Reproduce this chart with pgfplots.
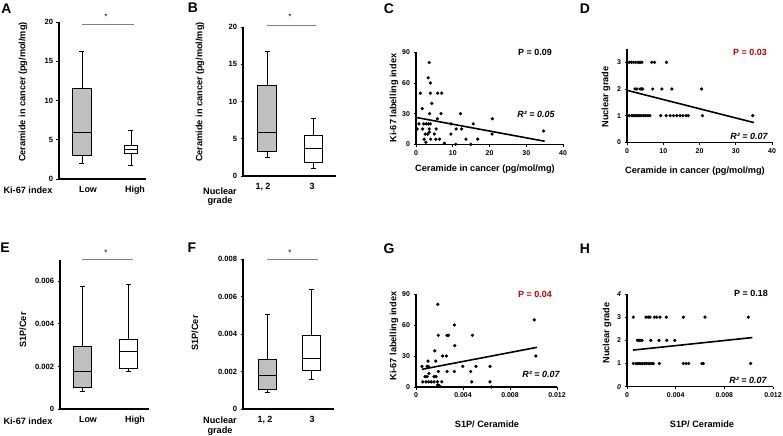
\documentclass[border=0pt]{standalone}
\usepackage{fontspec}
\setmainfont{Liberation Sans}
\usepackage{pgfplots}
\pgfplotsset{compat=1.18}
\definecolor{boxgray}{RGB}{191,191,191}
\definecolor{pred}{RGB}{192,0,0}
\pgfplotsset{
  base/.style={scale only axis, clip=false, anchor=south west,
    axis x line=bottom, axis y line=left,
    axis line style={-, line width=1.4bp, black},
    tick align=outside, major tick length=2.5bp,
    tick style={black, line width=0.8bp},
    tick label style={font=\fontsize{7}{8}\selectfont\bfseries},
    scaled ticks=false},
  boxax/.style={base, xtick style={draw=none},
    yticklabel style={font=\fontsize{7.6}{8.5}\selectfont\bfseries},
    xticklabel style={font=\fontsize{9}{10}\selectfont\bfseries, yshift=-1bp},
    ymin=0, xmin=0},
  bx/.style={draw=black, line width=0.8bp, no marks},
  sc/.style={only marks, mark=*, mark size=1.45bp, black},
  reg/.style={black, line width=1.6bp, no marks},
}
% box: #1 left, #2 centre, #3 right, #4 lower whisker, #5 Q1, #6 median, #7 Q3, #8 upper whisker, #9 fill
\newcommand{\bxp}[9]{%
  \pgfmathsetmacro\capl{#2-2.5}\pgfmathsetmacro\capr{#2+2.5}%
  \addplot[bx] coordinates {(#2,#7) (#2,#8)};
  \addplot[bx] coordinates {(\capl,#8) (\capr,#8)};
  \addplot[bx] coordinates {(#2,#5) (#2,#4)};
  \addplot[bx] coordinates {(\capl,#4) (\capr,#4)};
  \addplot[bx, fill=#9] coordinates {(#1,#5) (#3,#5) (#3,#7) (#1,#7) (#1,#5)};
  \addplot[bx] coordinates {(#1,#6) (#3,#6)};
}
\newcommand{\lab}{\fontsize{9.2}{10.5}\selectfont\bfseries}
\newcommand{\stat}{\fontsize{9}{10.5}\selectfont\bfseries}
\begin{document}
\begin{tikzpicture}
\useasboundingbox (0,0) rectangle (783bp,-436bp);

% ---------------- A ----------------
\begin{axis}[boxax, at={(59bp,-179bp)}, width=87bp, height=157bp,
  xmax=87, ymax=20, ytick={0,5,10,15,20}, yticklabels={0,5,10,15,20},
  xtick={29,76}, xticklabels={Low,High}]
\bxp{13.5}{23}{32.5}{2.0}{3.0}{5.9}{11.5}{16.3}{boxgray}
\bxp{65.5}{72}{78.5}{1.7}{3.27}{3.78}{4.29}{6.16}{white}
\end{axis}

% ---------------- B ----------------
\begin{axis}[boxax, at={(243bp,-176bp)}, width=93bp, height=149bp,
  xmax=93, ymax=20, ytick={0,5,10,15,20}, yticklabels={0,5,10,15,20},
  xtick={20,69}, xticklabels={{1, 2},3}]
\bxp{14.5}{24}{33.5}{2.45}{3.25}{5.88}{12.16}{16.66}{boxgray}
\bxp{61}{70}{79}{1.07}{1.83}{3.65}{5.43}{7.75}{white}
\end{axis}

% ---------------- E (values in units of 0.001) ----------------
\begin{axis}[boxax, at={(60bp,-409bp)}, width=89bp, height=149bp,
  xmax=89, ymax=7, ytick={0,2,4,6}, yticklabels={0,0.002,0.004,0.006},
  xtick={28,75}, xticklabels={Low,High}]
\bxp{13}{22}{31}{0.85}{1.03}{1.79}{2.93}{5.78}{boxgray}
\bxp{59}{68}{77}{1.79}{1.9}{2.71}{3.29}{5.87}{white}
\end{axis}

% ---------------- F (values in units of 0.001) ----------------
\begin{axis}[boxax, at={(243bp,-409bp)}, width=91bp, height=150bp,
  xmax=91, ymax=8, ytick={0,2,4,6,8}, yticklabels={0,0.002,0.004,0.006,0.008},
  xtick={22,69}, xticklabels={{1, 2},3}]
\bxp{15}{24}{33}{0.89}{1.05}{1.8}{2.63}{5.03}{boxgray}
\bxp{59}{68}{77}{1.6}{2.06}{2.72}{3.95}{6.4}{white}
\end{axis}

% ---------------- C ----------------
\begin{axis}[base, at={(416bp,-144.3bp)}, width=147bp, height=92bp,
  xmin=0, xmax=40, ymin=0, ymax=90,
  xtick={0,10,20,30,40}, xticklabels={0,10,20,30,40},
  ytick={0,30,60,90}, yticklabels={0,30,60,90}]
\addplot[sc] coordinates {(3.6,80) (3.3,65) (3.9,60) (1.2,50) (3.9,50) (5.9,50) (7.0,50) (4.3,40) (1.7,35)
 (3.7,30) (6.8,30) (12.1,30) (5.8,25) (20.8,25) (0.8,20) (2.1,20) (2.8,20) (3.4,20) (3.9,20) (9.5,20) (15.6,20)
 (0.3,15) (1.8,15) (3.6,15) (5.5,15) (10.9,15) (12.4,15) (2.5,10) (3.2,10) (5.0,10) (9.5,10) (20.7,10) (34.7,13)
 (3.6,12) (2.2,5) (4.0,5) (5.4,5) (6.4,5) (13.6,5) (16.8,5) (2.7,2) (7.7,1) (10.8,0) (14.9,0)};
\addplot[reg] coordinates {(0,26.3) (35,3)};
\end{axis}

% ---------------- D ----------------
\begin{axis}[base, at={(627bp,-142.3bp)}, width=145bp, height=93.3bp,
  xmin=0, xmax=40, ymin=0, ymax=3.5,
  xtick={0,10,20,30,40}, xticklabels={0,10,20,30,40},
  ytick={0,1,2,3}, yticklabels={0,1,2,3}]
\addplot[sc] coordinates {(0.6,3) (1.2,3) (1.8,3) (2.4,3) (3.1,3) (3.6,3) (4.1,3) (6.8,3) (7.6,3) (10.9,3)
 (2.2,2) (2.7,2) (3.6,2) (4.0,2) (4.3,2) (7.1,2) (9.6,2) (12.4,2) (20.6,2)
 (0.1,1) (0.6,1) (1.3,1) (1.7,1) (2.2,1) (2.7,1) (3.1,1) (3.6,1) (4.1,1) (4.7,1) (5.2,1) (5.8,1) (6.3,1)
 (9.3,1) (10.8,1) (11.9,1) (12.8,1) (13.7,1) (14.6,1) (15.4,1) (16.3,1) (16.9,1) (20.8,1) (34.7,1)};
\addplot[reg] coordinates {(0,1.95) (35,0.74)};
\end{axis}

% ---------------- G (x in units of 0.001) ----------------
\begin{axis}[base, at={(416bp,-387bp)}, width=141bp, height=93bp,
  xmin=0, xmax=12, ymin=0, ymax=90,
  xtick={0,4,8,12}, xticklabels={0,0.004,0.008,0.012},
  ytick={0,30,60,90}, yticklabels={0,30,60,90}]
\addplot[sc] coordinates {(1.85,80) (10.06,65) (3.27,60) (1.9,50) (2.64,50) (2.76,50) (4.8,50)
 (3.3,40) (1.6,35) (2.27,30) (2.59,30) (10.2,30) (1.02,25) (1.68,25)
 (0.51,20) (0.94,20) (1.05,20) (3.98,20) (5.1,20) (6.3,20)
 (1.9,15) (2.64,15) (3.27,15) (4.66,15) (1.1,13)
 (0.77,10) (0.94,10) (1.53,10) (1.7,10)
 (0.57,5) (0.85,5) (1.08,5) (1.3,5) (1.53,5) (1.82,5) (2.2,5) (4.74,5) (6.3,5)
 (1.85,2) (2.0,1) (6.42,0)};
\addplot[reg] coordinates {(0.5,17.1) (10.3,38.4)};
\end{axis}

% ---------------- H (x in units of 0.001) ----------------
\begin{axis}[base, at={(627bp,-386.7bp)}, width=146bp, height=92.7bp,
  xmin=0, xmax=12, ymin=0, ymax=4,
  xtick={0,4,8,12}, xticklabels={0,0.004,0.008,0.012},
  ytick={0,1,2,3,4}, yticklabels={\textit{0},1,2,3,\textit{4}}]
\addplot[sc] coordinates {(0.52,3) (1.56,3) (1.75,3) (1.89,3) (2.25,3) (2.44,3) (2.71,3)
 (3.23,3) (4.63,3) (6.41,3) (9.97,3)
 (0.85,2) (0.96,2) (1.07,2) (1.23,2) (1.95,2) (2.63,2) (3.26,2) (3.92,2)
 (0.52,1) (0.74,1) (0.88,1) (1.01,1) (1.15,1) (1.29,1) (1.45,1) (1.59,1) (1.75,1)
 (1.89,1) (2.05,1) (2.16,1) (2.66,1) (4.63,1) (4.85,1) (5.07,1) (6.16,1) (6.27,1) (10.16,1)};
\addplot[reg] coordinates {(0.5,1.58) (10.3,2.12)};
\end{axis}

% ---------------- panel letters ----------------
\foreach \t/\x/\y in {A/6.5/9, B/193/8, C/389/9, D/585/9, E/5/248, F/192/248, G/389/249, H/585/249}
  \node[font=\fontsize{14}{14}\selectfont\bfseries] at (\x bp,-\y bp) {\t};

% ---------------- axis titles ----------------
\node[font=\lab, rotate=90] at (23bp,-92bp) {Ceramide in cancer (pg/mol/mg)};
\node[font=\lab, rotate=90] at (200bp,-92bp) {Ceramide in cancer (pg/mol/mg)};
\node[font=\lab, rotate=90] at (23bp,-330bp) {S1P/Cer};
\node[font=\lab, rotate=90] at (195bp,-333bp) {S1P/Cer};
\node[font=\lab, rotate=90] at (394bp,-98bp) {Ki-67 labelling index};
\node[font=\lab, rotate=90] at (606bp,-97bp) {Nuclear grade};
\node[font=\lab, rotate=90] at (394bp,-336bp) {Ki-67 labelling index};
\node[font=\lab, rotate=90] at (607bp,-333bp) {Nuclear grade};
\node[font=\lab] at (485bp,-169bp) {Ceramide in cancer (pg/mol/mg)};
\node[font=\lab] at (695bp,-171bp) {Ceramide in cancer (pg/mol/mg)};
\node[font=\lab] at (487bp,-424bp) {S1P/ Ceramide};
\node[font=\lab] at (702bp,-424bp) {S1P/ Ceramide};

% category titles
\node[font=\fontsize{9.2}{10}\selectfont\bfseries] at (28bp,-190bp) {Ki-67 index};
\node[font=\fontsize{9.2}{10}\selectfont\bfseries] at (28bp,-421bp) {Ki-67 index};
\node[font=\fontsize{9.2}{10}\selectfont\bfseries] at (220bp,-191bp) {Nuclear};
\node[font=\fontsize{9.2}{10}\selectfont\bfseries] at (220bp,-201bp) {grade};
\node[font=\fontsize{9.2}{10}\selectfont\bfseries] at (220bp,-420bp) {Nuclear};
\node[font=\fontsize{9.2}{10}\selectfont\bfseries] at (220bp,-431bp) {grade};

% significance bars
\draw[gray, line width=0.8bp] (82bp,-24.7bp) -- (134bp,-24.7bp);
\draw[gray, line width=0.8bp] (267bp,-25bp) -- (316bp,-25bp);
\draw[gray, line width=0.8bp] (82bp,-259.3bp) -- (133bp,-259.3bp);
\draw[gray, line width=0.8bp] (267bp,-259bp) -- (318bp,-259bp);
\foreach \x/\y in {106/17, 290/17, 106/253, 290/253}
  \node[font=\fontsize{8}{8}\selectfont] at (\x bp,-\y bp) {*};

% statistics
\node[font=\stat] at (535bp,-52bp) {P = 0.09};
\node[font=\stat\itshape] at (536bp,-114bp) {R² = 0.05};
\node[font=\stat, text=pred] at (750bp,-52bp) {P = 0.03};
\node[font=\stat\itshape] at (749bp,-136bp) {R² = 0.07};
\node[font=\stat, text=pred] at (535bp,-294bp) {P = 0.04};
\node[font=\stat\itshape] at (541bp,-374bp) {R² = 0.07};
\node[font=\stat] at (751bp,-293bp) {P = 0.18};
\node[font=\stat\itshape] at (748bp,-380bp) {R² = 0.07};
\end{tikzpicture}
\end{document}
